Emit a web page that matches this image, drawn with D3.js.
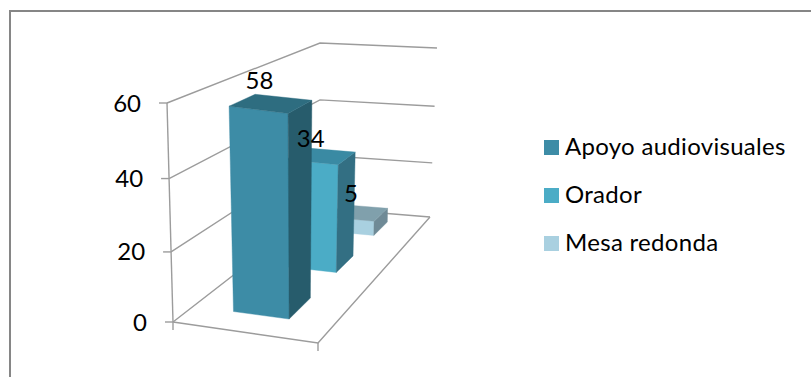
<!DOCTYPE html>
<html><head><meta charset="utf-8">
<script src="https://cdnjs.cloudflare.com/ajax/libs/d3/7.8.5/d3.min.js"></script>
<style>html,body{margin:0;padding:0;background:#fff}svg{display:block}text{font-family:Lato,Carlito,sans-serif;fill:#000}</style>
</head><body><svg id="c" width="811" height="377"></svg>
<script>
const seriesNames = ["Apoyo audiovisuales","Orador","Mesa redonda"];
const seriesValues = [58,34,5];
const tickValues = [0,20,40,60];
const frontColors = ["#3D8CA6","#4BACC6","#A9D0E0"];
const sideColors = ["#275C6C","#336F83","#6F8A96"];
const topColors = ["#2E6D80","#3A8AA3","#80A0AC"];

// Projection: floor and ceiling planes of the 3-D box on screen
const floorQuad = [[173,322],[318,343],[430,217],[320,208]];
const ceilQuad  = [[167,103],[322,125],[437,48],[320,43]];
function homography(q){
  const [[x0,y0],[x1,y1],[x2,y2],[x3,y3]] = q;
  const dx1=x1-x2,dx2=x3-x2,sx=x0-x1+x2-x3,dy1=y1-y2,dy2=y3-y2,sy=y0-y1+y2-y3;
  const det=dx1*dy2-dx2*dy1;
  const g=(sx*dy2-dx2*sy)/det,h=(dx1*sy-sx*dy1)/det;
  const a=x1-x0+g*x1,b=x3-x0+h*x3,d=y1-y0+g*y1,e=y3-y0+h*y3;
  return (u,t)=>{const w=g*u+h*t+1;return [(a*u+b*t+x0)/w,(d*u+e*t+y0)/w];};
}
const floorH=homography(floorQuad), ceilH=homography(ceilQuad);
const vScale=d3.scaleLinear().domain([0,20,40,60]).range([0,0.32,0.655,1]);
const project=(u,t,v)=>{
  const a=floorH(u,t),b=ceilH(u,t),k=vScale(v);
  return [a[0]+(b[0]-a[0])*k,a[1]+(b[1]-a[1])*k];
};
const uBand=d3.scaleBand().domain(["c"]).range([-0.003,0.997]).paddingInner(0).paddingOuter(0.76);
const tBand=d3.scaleBand().domain(seriesNames).range([0.008,1.008]).paddingInner(0.58).paddingOuter(0.29);

const svg=d3.select("#c");
const line=d3.line();
const gridColor="#9C9C9C";
const fontSize=24;

// chart frame
svg.append("path").attr("d","M10,377V11H811").attr("fill","none").attr("stroke","#868686").attr("stroke-width",2);

// walls and gridlines
const grid=svg.append("g").attr("fill","none").attr("stroke",gridColor).attr("stroke-width",1.4);
tickValues.forEach(v=>{
  grid.append("path").attr("d",line([project(0,0,v),project(0,1,v),project(1,1,v)]));
});
grid.append("path").attr("d",line([project(0,0,0),project(1,0,0),project(1,1,0)]));
grid.append("path").attr("d",line([project(0,0,60),project(0,0,0)]));
tickValues.forEach(v=>{
  const p=project(0,0,v);
  grid.append("path").attr("d",line([[p[0]-8,p[1]],p]));
  svg.append("text").attr("x",p[0]-26).attr("y",p[1]+8.5).attr("text-anchor","end").attr("font-size",fontSize).text(v);
});
const p00=project(0,0,0),p10=project(1,0,0);
grid.append("path").attr("d",line([p00,[p00[0],p00[1]+8]]));
grid.append("path").attr("d",line([p10,[p10[0],p10[1]+8]]));

// bars, back to front
const u0=uBand("c"),u1=u0+uBand.bandwidth();
const barOrder=seriesNames.map((n,i)=>i).reverse();
barOrder.forEach(i=>{
  const t0=tBand(seriesNames[i]),t1=t0+tBand.bandwidth(),v=seriesValues[i];
  const g=svg.append("g");
  const poly=(pts,c)=>g.append("path").attr("d",line(pts)+"Z").attr("fill",c).attr("stroke",c).attr("stroke-width",0.4);
  poly([project(u0,t0,0),project(u1,t0,0),project(u1,t0,v),project(u0,t0,v)],frontColors[i]);
  poly([project(u1,t0,0),project(u1,t1,0),project(u1,t1,v),project(u1,t0,v)],sideColors[i]);
  poly([project(u0,t0,v),project(u1,t0,v),project(u1,t1,v),project(u0,t1,v)],topColors[i]);
});
// value labels
const labelDx=[-11,-10,-7], labelDy=[-14,-9,-11];
seriesValues.forEach((v,i)=>{
  const t0=tBand(seriesNames[i]),t1=t0+tBand.bandwidth();
  const p=project((u0+u1)/2,(t0+t1)/2,v);
  svg.append("text").attr("x",p[0]+labelDx[i]).attr("y",p[1]+labelDy[i])
    .attr("text-anchor","middle").attr("font-size",fontSize).text(v);
});

// legend
const legendY=d3.scalePoint().domain(seriesNames).range([147.5,243.5]);
seriesNames.forEach((n,i)=>{
  const y=legendY(n);
  svg.append("rect").attr("x",544).attr("y",y-7.5).attr("width",15).attr("height",15).attr("fill",frontColors[i]);
  svg.append("text").attr("x",565).attr("y",y+7.5).attr("font-size",fontSize).attr("letter-spacing",0.3).text(n);
});
</script></body></html>
